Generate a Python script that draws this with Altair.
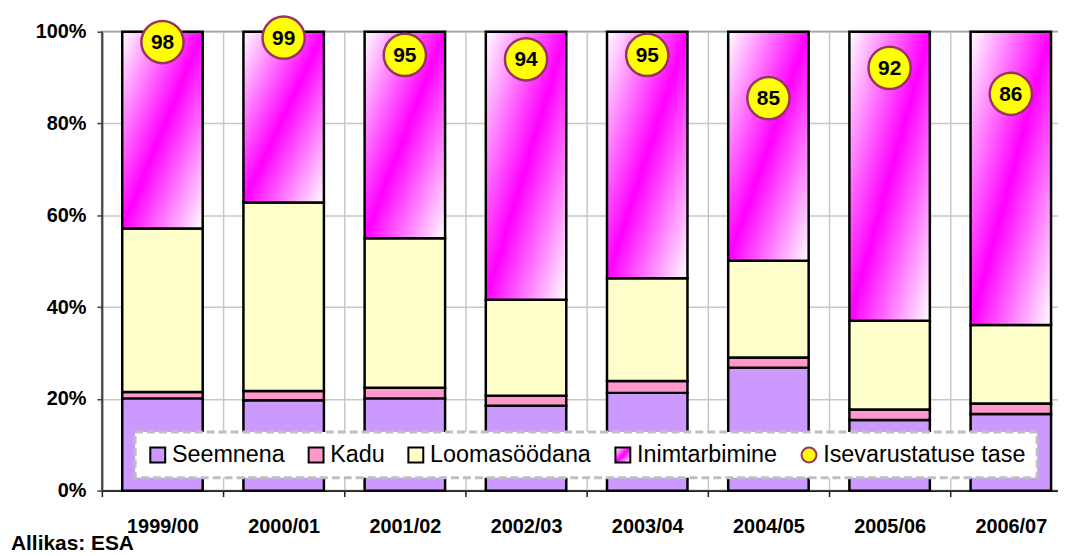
import altair as alt
import pandas as pd

# ---- data ----
years = ["1999/00", "2000/01", "2001/02", "2002/03", "2003/04", "2004/05", "2005/06", "2006/07"]
seemnena = [20.1, 19.7, 20.1, 18.5, 21.3, 26.8, 15.4, 16.7]
kadu = [1.4, 2.0, 2.3, 2.2, 2.6, 2.2, 2.3, 2.3]
loomasoodana = [35.6, 41.1, 32.6, 20.9, 22.4, 21.1, 19.3, 17.1]
inimtarbimine = [42.9, 37.2, 45.0, 58.4, 53.7, 49.9, 63.0, 63.9]
isevarustatus = [98, 99, 95, 94, 95, 85, 92, 86]

series_names = ["Seemnena", "Kadu", "Loomasöödana", "Inimtarbimine", "Isevarustatuse tase"]
gradient_expr = ("{gradient: 'linear', x1: 0, y1: 0, x2: 1, y2: 1, stops: ["
                 "{offset: 0, color: '#FFFFFF'}, {offset: 0.5, color: '#FF00FF'}, "
                 "{offset: 1, color: '#FFFFFF'}]}")
fills = ["#CC99FF", "#FF99CC", "#FFFFCC", {"expr": gradient_expr}, "#FFFF00"]
strokes = ["#000000", "#000000", "#000000", "#000000", "#993366"]
shapes = ["square", "square", "square", "square", "circle"]

rows = []
for i, y in enumerate(years):
    for k, (name, vals) in enumerate(zip(series_names[:4], [seemnena, kadu, loomasoodana, inimtarbimine])):
        rows.append({"year": y, "series": name, "ord": k, "value": vals[i] / 100})
bars_df = pd.DataFrame(rows)
pts_df = pd.DataFrame({"year": years, "level": isevarustatus, "series": series_names[4]})

FONT = "Liberation Sans"

color_enc = alt.Color("series:N", scale=alt.Scale(domain=series_names, range=fills), legend=alt.Legend(title=None))
stroke_enc = alt.Stroke("series:N", scale=alt.Scale(domain=series_names, range=strokes), legend=alt.Legend(title=None))

x_enc = alt.X(
    "year:N", sort=years, title=None,
    scale=alt.Scale(paddingInner=0, paddingOuter=0),
    axis=alt.Axis(labelAngle=0, labelFontSize=20, labelFontWeight="bold", labelColor="#000000",
                  labelPadding=20, tickSize=6, tickColor="#202020", tickWidth=1.5,
                  tickBand="extent", grid=True, gridColor="#C8C8C8", gridWidth=1.5,
                  domainColor="#202020", domainWidth=2),
)

bars = alt.Chart(bars_df).mark_bar(width=alt.RelativeBandSize(0.664), strokeWidth=2.5).encode(
    x=x_enc,
    y=alt.Y("value:Q", stack="zero", title=None,
            scale=alt.Scale(domain=[0, 1], nice=False),
            axis=alt.Axis(format="%", values=[0, 0.2, 0.4, 0.6, 0.8, 1.0], labelFontSize=20,
                          labelFontWeight="bold", labelColor="#000000", labelPadding=11,
                          tickSize=5, tickColor="#404040", tickWidth=1.5,
                          grid=True, gridColor="#C8C8C8", gridWidth=1.5,
                          domainColor="#404040", domainWidth=2)),
    color=color_enc,
    stroke=stroke_enc,
    order=alt.Order("ord:Q", sort="ascending"),
)

y_lvl = alt.Y("level:Q", scale=alt.Scale(domain=[-6, 100.4], nice=False, zero=False), axis=None)

points = alt.Chart(pts_df).mark_point(filled=True, size=1810, strokeWidth=2.5, opacity=1).encode(
    x=alt.X("year:N", sort=years),
    y=y_lvl,
    color=color_enc,
    stroke=stroke_enc,
    shape=alt.Shape("series:N", scale=alt.Scale(domain=series_names, range=shapes), legend=alt.Legend(title=None)),
)

labels = alt.Chart(pts_df).mark_text(fontSize=21, fontWeight="bold", color="#000000",
                                     baseline="middle", align="center", dy=1).encode(
    x=alt.X("year:N", sort=years),
    y=y_lvl,
    text=alt.Text("level:Q"),
)

chart = alt.layer(bars, points, labels).resolve_scale(y="independent").properties(
    width=976,
    height=462,
    padding={"left": 94.5, "top": 22, "right": -13.5, "bottom": 70},
    autosize=alt.AutoSizeParams(type="none"),
    title=alt.TitleParams("Allikas: ESA", orient="bottom", anchor="start", frame="group",
                          dx=-91.5, dy=-3, offset=0, fontSize=21, fontWeight="bold", color="#000000"),
).configure(font=FONT).configure_view(
    stroke="#808080", strokeWidth=2
).configure_legend(
    orient="none", legendX=33.5, legendY=403, direction="horizontal",
    fillColor="#FFFFFF", strokeColor="#BFBFBF", strokeDash=[8, 4], strokeWidth=3,
    padding=11, labelFont=FONT, labelFontSize=23.5, labelColor="#000000", labelLimit=400,
    symbolSize=225, symbolStrokeWidth=2, columnPadding=19.4, labelOffset=2.5, symbolOffset=0,
)

chart.save("out.html", embed_options={"renderer": "svg", "actions": False})
